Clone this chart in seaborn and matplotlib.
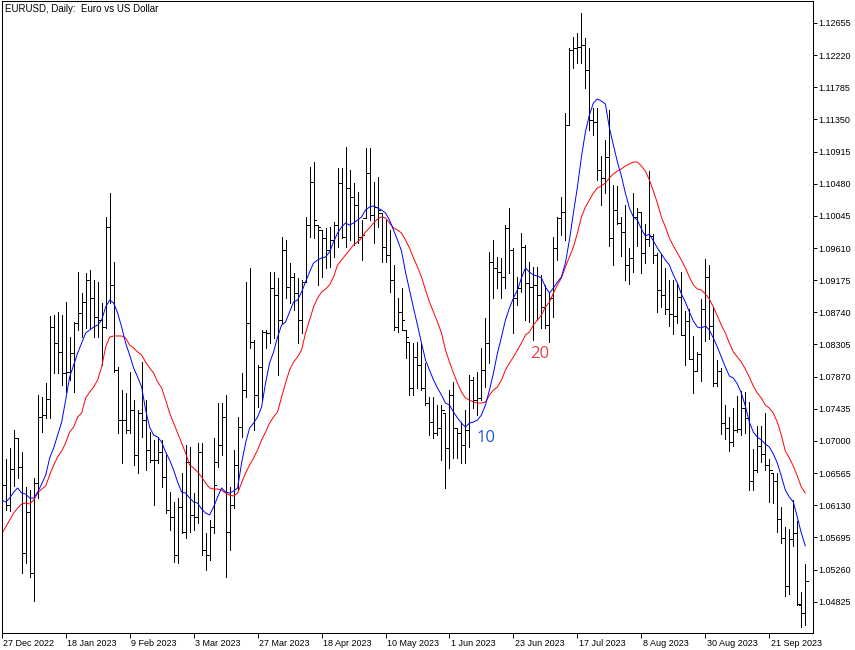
import matplotlib
matplotlib.use('Agg')
import matplotlib.pyplot as plt
import matplotlib.transforms as mtransforms
import numpy as np
import pandas as pd
import seaborn as sns

# EURUSD daily bars (one value per bar, left to right)
open_ = [1.06309, 1.06404, 1.06133, 1.06620, 1.07040, 1.06647, 1.05484, 1.06039, 1.05213, 1.06431,
         1.07324, 1.07351, 1.07567, 1.08541, 1.08325, 1.08204, 1.07919, 1.07933, 1.08190, 1.08595,
         1.08731, 1.08880, 1.09178, 1.08934, 1.08677, 1.08636, 1.08541, 1.09894, 1.09110, 1.07960,
         1.07283, 1.07283, 1.07148, 1.07419, 1.06810, 1.07378, 1.07283, 1.06878, 1.06742, 1.06742,
         1.06851, 1.06512, 1.06066, 1.05971, 1.05457, 1.06106, 1.05768, 1.06715, 1.05998, 1.05971,
         1.06851, 1.05525, 1.05457, 1.05835, 1.06715, 1.06945, 1.07324, 1.05768, 1.06133, 1.06674,
         1.07188, 1.07689, 1.08595, 1.08339, 1.07621, 1.08000, 1.08474, 1.08460, 1.09070, 1.08974,
         1.08636, 1.09584, 1.09083, 1.09218, 1.09001, 1.08636, 1.09151, 1.09921, 1.10504, 1.09921,
         1.09854, 1.09746, 1.09584, 1.09719, 1.09921, 1.10490, 1.09759, 1.10423, 1.10300, 1.10192,
         1.09759, 1.10017, 1.10625, 1.10057, 1.10165, 1.10084, 1.09624, 1.09516, 1.09178, 1.08541,
         1.08745, 1.08501, 1.08339, 1.07717, 1.08136, 1.08027, 1.07717, 1.07513, 1.07256, 1.07107,
         1.07175, 1.07378, 1.06905, 1.07621, 1.07175, 1.07107, 1.06945, 1.07148, 1.07825, 1.07554,
         1.07581, 1.07960, 1.08325, 1.09421, 1.09340, 1.09286, 1.09218, 1.09881, 1.09584, 1.08934,
         1.09070, 1.09624, 1.09137, 1.09083, 1.09110, 1.08974, 1.08812, 1.08568, 1.08934, 1.09611,
         1.10017, 1.10098, 1.11275, 1.12289, 1.12316, 1.12330, 1.12357, 1.12019, 1.11342, 1.11315,
         1.10666, 1.10558, 1.10842, 1.09746, 1.10125, 1.09948, 1.09827, 1.09380, 1.09476, 1.10030,
         1.10098, 1.09543, 1.09732, 1.09773, 1.09516, 1.09042, 1.08974, 1.08785, 1.08718, 1.08691,
         1.08948, 1.08433, 1.08622, 1.08109, 1.07946, 1.08177, 1.08785, 1.09218, 1.08555, 1.07784,
         1.07946, 1.07242, 1.07175, 1.06986, 1.07148, 1.07161, 1.07446, 1.07311, 1.06458, 1.06607,
         1.06932, 1.06824, 1.06674, 1.06566, 1.06458, 1.05944, 1.05687, 1.05038, 1.05673, 1.05754,
         1.04780, 1.04672]
high = [1.06715, 1.06756, 1.06905, 1.07148, 1.07040, 1.06851, 1.06377, 1.06336, 1.06499, 1.07621,
        1.07594, 1.07784, 1.08691, 1.08704, 1.08745, 1.08704, 1.08880, 1.08406, 1.08609, 1.09286,
        1.09001, 1.09272, 1.09313, 1.09178, 1.09151, 1.08866, 1.10030, 1.10354, 1.09421, 1.08000,
        1.07689, 1.07648, 1.07933, 1.07554, 1.07419, 1.08068, 1.07554, 1.07121, 1.07013, 1.07053,
        1.07013, 1.06810, 1.06309, 1.06174, 1.06228, 1.06566, 1.06945, 1.06918, 1.06295, 1.06972,
        1.06972, 1.05754, 1.05930, 1.07040, 1.07513, 1.07513, 1.07621, 1.06377, 1.06878, 1.07324,
        1.07919, 1.09151, 1.09340, 1.08366, 1.08027, 1.08501, 1.08501, 1.09286, 1.09286, 1.09205,
        1.09759, 1.09719, 1.09407, 1.09272, 1.09205, 1.09178, 1.10030, 1.10706, 1.10774, 1.09921,
        1.09854, 1.09881, 1.09894, 1.09962, 1.10693, 1.10693, 1.10977, 1.10666, 1.10490, 1.10368,
        1.09989, 1.10964, 1.10964, 1.10504, 1.10571, 1.10084, 1.09989, 1.09854, 1.09380, 1.08934,
        1.09070, 1.08501, 1.08339, 1.08325, 1.08339, 1.08325, 1.08054, 1.07594, 1.07594, 1.07486,
        1.07486, 1.07378, 1.07689, 1.07798, 1.07175, 1.07256, 1.07419, 1.07892, 1.07865, 1.07933,
        1.08258, 1.08664, 1.09557, 1.09719, 1.09489, 1.09476, 1.09921, 1.10152, 1.09611, 1.09218,
        1.09813, 1.09651, 1.09421, 1.09353, 1.09353, 1.09245, 1.09110, 1.09001, 1.09759, 1.10030,
        1.10300, 1.11437, 1.12316, 1.12466, 1.12519, 1.12790, 1.12452, 1.12316, 1.11505, 1.11505,
        1.10856, 1.11072, 1.11478, 1.10463, 1.10449, 1.10030, 1.10192, 1.09611, 1.10354, 1.10152,
        1.10098, 1.09935, 1.10652, 1.09800, 1.09543, 1.09530, 1.09340, 1.09178, 1.09178, 1.09124,
        1.09286, 1.08758, 1.08785, 1.08420, 1.08204, 1.08921, 1.09462, 1.09380, 1.08812, 1.08095,
        1.07987, 1.07486, 1.07324, 1.07446, 1.07608, 1.07675, 1.07662, 1.07527, 1.06891, 1.07202,
        1.07202, 1.07378, 1.06756, 1.06566, 1.06566, 1.06106, 1.05835, 1.05808, 1.06201, 1.05916,
        1.04956, 1.05335]
low = [1.06133, 1.06066, 1.06052, 1.06391, 1.06499, 1.05213, 1.05348, 1.05159, 1.04834, 1.06228,
       1.07121, 1.07311, 1.07311, 1.07919, 1.07919, 1.07757, 1.07662, 1.07825, 1.07662, 1.08501,
       1.08406, 1.08528, 1.08528, 1.08406, 1.08406, 1.08027, 1.08528, 1.08866, 1.07933, 1.07107,
       1.06701, 1.07107, 1.07107, 1.06674, 1.06566, 1.07053, 1.06607, 1.06715, 1.06133, 1.06701,
       1.06377, 1.06025, 1.05795, 1.05362, 1.05348, 1.05754, 1.05687, 1.05768, 1.05795, 1.05889,
       1.05457, 1.05254, 1.05389, 1.05754, 1.06647, 1.06810, 1.05159, 1.05525, 1.06093, 1.06336,
       1.07053, 1.07594, 1.08258, 1.07148, 1.07459, 1.07554, 1.08258, 1.08325, 1.08393, 1.07892,
       1.08595, 1.08934, 1.08866, 1.08772, 1.08325, 1.08460, 1.09151, 1.09759, 1.09746, 1.09110,
       1.09218, 1.09340, 1.09353, 1.09489, 1.09624, 1.09746, 1.09624, 1.09719, 1.09651, 1.09678,
       1.09448, 1.10017, 1.09989, 1.09678, 1.09894, 1.09421, 1.09421, 1.09015, 1.08501, 1.08474,
       1.08501, 1.08123, 1.07621, 1.07621, 1.07717, 1.07689, 1.07486, 1.07080, 1.07040, 1.07080,
       1.06742, 1.06364, 1.06634, 1.06770, 1.06770, 1.06701, 1.06701, 1.06918, 1.07446, 1.07351,
       1.07554, 1.07730, 1.08054, 1.08934, 1.09070, 1.08934, 1.09070, 1.09272, 1.08460, 1.08839,
       1.09015, 1.08636, 1.08609, 1.08366, 1.08636, 1.08528, 1.08528, 1.08339, 1.08677, 1.09448,
       1.09786, 1.09719, 1.11275, 1.12046, 1.12113, 1.12113, 1.11775, 1.11207, 1.11139, 1.10531,
       1.10192, 1.10354, 1.09638, 1.09380, 1.09935, 1.09503, 1.09178, 1.09124, 1.09286, 1.09638,
       1.09272, 1.09407, 1.09638, 1.09407, 1.08745, 1.08812, 1.08718, 1.08555, 1.08447, 1.08595,
       1.08433, 1.08027, 1.08109, 1.07648, 1.07946, 1.07811, 1.08352, 1.08379, 1.07743, 1.07743,
       1.07094, 1.07026, 1.06864, 1.06932, 1.07121, 1.07080, 1.07107, 1.06336, 1.06336, 1.06580,
       1.06715, 1.06607, 1.06174, 1.06160, 1.05768, 1.05619, 1.04902, 1.04929, 1.05579, 1.04780,
       1.04482, 1.04509]
close = [1.06404, 1.06133, 1.06620, 1.07040, 1.06647, 1.05484, 1.06039, 1.05213, 1.06431, 1.07324,
         1.07351, 1.07567, 1.08541, 1.08325, 1.08204, 1.07919, 1.07933, 1.08190, 1.08595, 1.08731,
         1.08880, 1.09178, 1.08934, 1.08677, 1.08636, 1.08541, 1.09894, 1.09110, 1.07960, 1.07283,
         1.07283, 1.07148, 1.07419, 1.06810, 1.07378, 1.07283, 1.06878, 1.06742, 1.06742, 1.06851,
         1.06512, 1.06066, 1.05971, 1.05457, 1.06106, 1.05768, 1.06715, 1.05998, 1.05971, 1.06851,
         1.05525, 1.05457, 1.05835, 1.06404, 1.06945, 1.07324, 1.05768, 1.06133, 1.06674, 1.07188,
         1.07689, 1.08595, 1.08339, 1.07621, 1.08000, 1.08474, 1.08460, 1.09070, 1.08974, 1.08636,
         1.09584, 1.09083, 1.09218, 1.09001, 1.08636, 1.09151, 1.09921, 1.10504, 1.09989, 1.09894,
         1.09746, 1.09584, 1.09719, 1.09921, 1.10490, 1.09759, 1.10423, 1.10300, 1.10192, 1.09759,
         1.09786, 1.10625, 1.10057, 1.10165, 1.10125, 1.09624, 1.09516, 1.09178, 1.08541, 1.08745,
         1.08636, 1.08406, 1.07717, 1.08136, 1.08027, 1.07717, 1.07513, 1.07256, 1.07107, 1.07175,
         1.07419, 1.06905, 1.07621, 1.07175, 1.07107, 1.06945, 1.07148, 1.07825, 1.07554, 1.07581,
         1.07960, 1.08325, 1.09421, 1.09340, 1.09286, 1.09218, 1.09881, 1.09584, 1.08934, 1.09070,
         1.09624, 1.09137, 1.09083, 1.09110, 1.08974, 1.08812, 1.08568, 1.08934, 1.09611, 1.10017,
         1.10098, 1.11275, 1.12289, 1.12316, 1.12330, 1.12357, 1.12019, 1.11342, 1.11315, 1.10666,
         1.10558, 1.10842, 1.09746, 1.10125, 1.09948, 1.09827, 1.09380, 1.09476, 1.10030, 1.10098,
         1.09543, 1.09732, 1.09773, 1.09516, 1.09042, 1.08974, 1.08785, 1.08718, 1.08691, 1.08948,
         1.08433, 1.08622, 1.08109, 1.07946, 1.08177, 1.08785, 1.09218, 1.08555, 1.07784, 1.07946,
         1.07242, 1.07175, 1.06986, 1.07148, 1.07161, 1.07446, 1.07311, 1.06458, 1.06607, 1.06932,
         1.06824, 1.06674, 1.06607, 1.06458, 1.05944, 1.05687, 1.05038, 1.05673, 1.05754, 1.04794,
         1.04672, 1.05105]

# moving averages as drawn on the chart (blue = 10, red = 20)
ma10 = [1.06201, 1.06174, 1.06228, 1.06309, 1.06364, 1.06295, 1.06282, 1.06228, 1.06228, 1.06309,
        1.06418, 1.06539, 1.06770, 1.06905, 1.07080, 1.07256, 1.07554, 1.07865, 1.08027, 1.08190,
        1.08325, 1.08460, 1.08501, 1.08541, 1.08568, 1.08636, 1.08812, 1.08907, 1.08866, 1.08731,
        1.08541, 1.08325, 1.08163, 1.07987, 1.07865, 1.07730, 1.07419, 1.07188, 1.07080, 1.07053,
        1.06986, 1.06851, 1.06742, 1.06607, 1.06445, 1.06309, 1.06295, 1.06228, 1.06174, 1.06160,
        1.06079, 1.06025, 1.05998, 1.06106, 1.06241, 1.06364, 1.06309, 1.06295, 1.06322, 1.06364,
        1.06701, 1.06972, 1.07175, 1.07242, 1.07324, 1.07459, 1.07784, 1.08054, 1.08204, 1.08406,
        1.08568, 1.08609, 1.08745, 1.08880, 1.08907, 1.09015, 1.09151, 1.09286, 1.09407, 1.09448,
        1.09476, 1.09489, 1.09557, 1.09692, 1.09813, 1.09894, 1.09948, 1.09921, 1.09948, 1.09989,
        1.10030, 1.10125, 1.10165, 1.10179, 1.10152, 1.10125, 1.10084, 1.09989, 1.09854, 1.09719,
        1.09570, 1.09286, 1.09042, 1.08799, 1.08568, 1.08325, 1.08095, 1.07960, 1.07825, 1.07717,
        1.07621, 1.07513, 1.07486, 1.07392, 1.07311, 1.07242, 1.07188, 1.07242, 1.07256, 1.07283,
        1.07351, 1.07486, 1.07689, 1.07919, 1.08190, 1.08406, 1.08636, 1.08799, 1.08934, 1.09042,
        1.09205, 1.09340, 1.09286, 1.09245, 1.09232, 1.09205, 1.09083, 1.09001, 1.09070, 1.09151,
        1.09218, 1.09407, 1.09719, 1.10084, 1.10436, 1.10842, 1.11180, 1.11410, 1.11572, 1.11626,
        1.11599, 1.11559, 1.11234, 1.11004, 1.10774, 1.10585, 1.10354, 1.10152, 1.10030, 1.09989,
        1.09867, 1.09773, 1.09800, 1.09705, 1.09611, 1.09530, 1.09448, 1.09380, 1.09245, 1.09137,
        1.08988, 1.08880, 1.08745, 1.08622, 1.08541, 1.08528, 1.08555, 1.08501, 1.08393, 1.08271,
        1.08136, 1.08000, 1.07879, 1.07852, 1.07771, 1.07648, 1.07473, 1.07256, 1.07121, 1.07053,
        1.07013, 1.06959, 1.06918, 1.06824, 1.06701, 1.06526, 1.06336, 1.06241, 1.06174, 1.05971,
        1.05754, 1.05579]
ma20 = [1.05741, 1.05835, 1.05930, 1.06025, 1.06093, 1.06147, 1.06160, 1.06147, 1.06201, 1.06295,
        1.06350, 1.06391, 1.06539, 1.06674, 1.06783, 1.06864, 1.06972, 1.07121, 1.07188, 1.07324,
        1.07378, 1.07581, 1.07662, 1.07730, 1.07825, 1.08000, 1.08271, 1.08406, 1.08420, 1.08420,
        1.08420, 1.08393, 1.08298, 1.08258, 1.08204, 1.08163, 1.08068, 1.07987, 1.07919, 1.07798,
        1.07717, 1.07554, 1.07378, 1.07242, 1.07107, 1.06972, 1.06837, 1.06674, 1.06634, 1.06580,
        1.06512, 1.06431, 1.06364, 1.06350, 1.06350, 1.06336, 1.06295, 1.06268, 1.06255, 1.06295,
        1.06431, 1.06566, 1.06674, 1.06770, 1.06878, 1.07013, 1.07121, 1.07242, 1.07324, 1.07392,
        1.07594, 1.07784, 1.07960, 1.08068, 1.08136, 1.08231, 1.08460, 1.08636, 1.08812, 1.08934,
        1.09015, 1.09056, 1.09110, 1.09218, 1.09380, 1.09448, 1.09516, 1.09584, 1.09651, 1.09692,
        1.09746, 1.09827, 1.09881, 1.09948, 1.10003, 1.10030, 1.10017, 1.09948, 1.09881, 1.09854,
        1.09813, 1.09719, 1.09611, 1.09476, 1.09353, 1.09218, 1.09042, 1.08880, 1.08745, 1.08609,
        1.08460, 1.08231, 1.08068, 1.07919, 1.07784, 1.07662, 1.07581, 1.07554, 1.07527, 1.07513,
        1.07513, 1.07527, 1.07621, 1.07689, 1.07730, 1.07825, 1.07960, 1.08054, 1.08136, 1.08231,
        1.08325, 1.08433, 1.08474, 1.08568, 1.08636, 1.08704, 1.08812, 1.08880, 1.09001, 1.09110,
        1.09205, 1.09353, 1.09489, 1.09624, 1.09813, 1.10030, 1.10165, 1.10260, 1.10354, 1.10423,
        1.10450, 1.10490, 1.10558, 1.10612, 1.10652, 1.10679, 1.10720, 1.10747, 1.10774, 1.10774,
        1.10720, 1.10652, 1.10531, 1.10381, 1.10219, 1.10030, 1.09894, 1.09746, 1.09638, 1.09543,
        1.09448, 1.09340, 1.09218, 1.09110, 1.09056, 1.09042, 1.08988, 1.08920, 1.08812, 1.08691,
        1.08568, 1.08460, 1.08325, 1.08204, 1.08136, 1.08068, 1.07973, 1.07865, 1.07743, 1.07648,
        1.07581, 1.07486, 1.07446, 1.07378, 1.07256, 1.07080, 1.06864, 1.06770, 1.06661, 1.06526,
        1.06377, 1.06295]

date_tick_bars = [0, 16, 32, 48, 64, 80, 96, 112, 128, 144, 160, 176, 192]
date_tick_labels = ['27 Dec 2022', '18 Jan 2023', '9 Feb 2023', '3 Mar 2023', '27 Mar 2023',
                    '18 Apr 2023', '10 May 2023', '1 Jun 2023', '23 Jun 2023', '17 Jul 2023',
                    '8 Aug 2023', '30 Aug 2023', '21 Sep 2023']
price_tick_labels = ['1.04825', '1.05260', '1.05695', '1.06130', '1.06565', '1.07000', '1.07435',
                     '1.07870', '1.08305', '1.08740', '1.09175', '1.09610', '1.10045', '1.10480',
                     '1.10915', '1.11350', '1.11785', '1.12220', '1.12655']

df = pd.DataFrame({'bar': np.arange(len(close)), 'open': open_, 'high': high,
                   'low': low, 'close': close, 'ma10': ma10, 'ma20': ma20})

sns.set_style('white')
plt.rcParams['font.family'] = ['Liberation Sans', 'DejaVu Sans']

fig = plt.figure(figsize=(8.55, 6.5), dpi=100)
ax = fig.add_axes([1.5 / 855, 17 / 650, 811.2 / 855, 632 / 650])

# bars: high-low line, open tick on the left, close tick on the right
bar_lw = 0.6
ax.vlines(df['bar'], df['low'], df['high'], color='black', lw=bar_lw, antialiased=False)
ax.hlines(df['open'], df['bar'] - 0.55, df['bar'], color='black', lw=bar_lw, antialiased=False)
ax.hlines(df['close'], df['bar'], df['bar'] + 0.55, color='black', lw=bar_lw, antialiased=False)

sns.lineplot(data=df, x='bar', y='ma20', color='#ff0000', lw=0.7, ax=ax)
sns.lineplot(data=df, x='bar', y='ma10', color='#0000ff', lw=0.7, ax=ax)

ax.annotate('10', xy=(116, ma10[116]), xytext=(15, -8), textcoords='offset points',
            color='#2456e0', fontsize=12, ha='center', va='center', family='Open Sans')
ax.annotate('20', xy=(135, ma20[135]), xytext=(-1, -28), textcoords='offset points',
            color='#e8404a', fontsize=12, ha='center', va='center', family='Open Sans')

ax.set_xlim(-0.05, 202.85)
ax.set_ylim(1.04402, 1.12952)
ax.set_xlabel('')
ax.set_ylabel('')

ax.yaxis.tick_right()
ax.set_yticks([float(t) for t in price_tick_labels], price_tick_labels)
ax.set_xticks(date_tick_bars, date_tick_labels)
ax.tick_params(axis='y', direction='out', length=3, width=0.7, pad=1.2,
               labelsize=6.5, colors='black', right=True, left=False)
ax.tick_params(axis='x', direction='out', length=3.3, width=0.7, pad=0.8,
               labelsize=6.5, colors='black', bottom=True)
shift = mtransforms.ScaledTranslation(1.5 / 100, 0, fig.dpi_scale_trans)
for lbl in ax.get_xticklabels():
    lbl.set_horizontalalignment('left')
    lbl.set_transform(lbl.get_transform() + shift)

for s in ax.spines.values():
    s.set_visible(True)
    s.set_color('black')
    s.set_linewidth(0.75)

ax.text(0.004, 1 - 3 / 632, 'EURUSD, Daily:  Euro vs US Dollar', transform=ax.transAxes,
        ha='left', va='top', fontsize=7, color='black')

fig.savefig('out.png', dpi=100)
